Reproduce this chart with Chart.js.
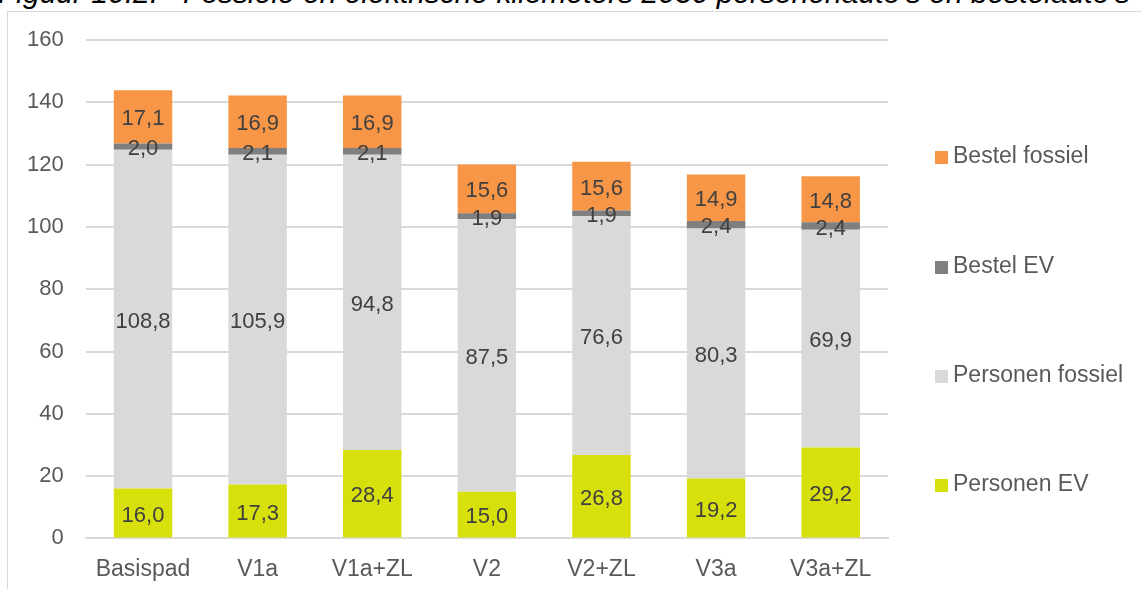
<!DOCTYPE html>
<html>
<head>
<meta charset="utf-8">
<script src="https://cdn.jsdelivr.net/npm/chart.js@4.4.1/dist/chart.umd.min.js"></script>
<style>
    html, body { margin: 0; padding: 0; background: #fff; overflow: hidden; }
    #wrap { position: relative; width: 1142px; height: 589px; overflow: hidden; }
    #titel {
        position: absolute; left: -2px; top: -22px; white-space: nowrap;
        font: italic 30px "Liberation Sans", Arial, sans-serif; color: #000; line-height: 30px;
    }
    #kader {
        position: absolute; left: 7px; top: 11px; width: 1200px; height: 700px;
        border-left: 1px solid #d9d9d9; border-top: 1px solid #d9d9d9;
    }
    #chart { position: absolute; left: 0; top: 0; }
    #legenda {
        position: absolute; left: 935px; top: 0;
        font: 23px "Liberation Sans", Arial, sans-serif; color: #595959;
    }
    #legenda div { position: absolute; white-space: nowrap; line-height: 23px; }
    #legenda span { display: inline-block; width: 13px; height: 13px; margin-right: 5px; vertical-align: -1px; }
</style>
</head>
<body>
<div id="wrap">
    <div id="titel">Figuur 10.2:&nbsp;&nbsp; Fossiele en elektrische kilometers 2030 personenauto's en bestelauto's</div>
    <div id="kader"></div>
    <canvas id="chart" width="1142" height="592"></canvas>
    <div id="legenda"></div>
</div>
<script>
    // Data (miljard km)
    const categorieen = ['Basispad', 'V1a', 'V1a+ZL', 'V2', 'V2+ZL', 'V3a', 'V3a+ZL'];
    const personenEV = [16.0, 17.3, 28.4, 15.0, 26.8, 19.2, 29.2];
    const personenFossiel = [108.8, 105.9, 94.8, 87.5, 76.6, 80.3, 69.9];
    const bestelEV = [2.0, 2.1, 2.1, 1.9, 1.9, 2.4, 2.4];
    const bestelFossiel = [17.1, 16.9, 16.9, 15.6, 15.6, 14.9, 14.8];

    const lettertype = '"Liberation Sans", Arial, sans-serif';

    // Waarden midden in elk segment tekenen
    const labelPlugin = {
        id: 'segmentLabels',
        afterDatasetsDraw(chart) {
            const ctx = chart.ctx;
            ctx.save();
            ctx.font = '22px ' + lettertype;
            ctx.fillStyle = '#404040';
            ctx.textAlign = 'center';
            ctx.textBaseline = 'middle';
            chart.data.datasets.forEach((ds, i) => {
                const meta = chart.getDatasetMeta(i);
                meta.data.forEach((bar, j) => {
                    const tekst = ds.data[j].toFixed(1).replace('.', ',');
                    ctx.fillText(tekst, bar.x, (bar.y + bar.base) / 2 + 2.5);
                });
            });
            ctx.restore();
        }
    };

    const ctx = document.getElementById('chart').getContext('2d');
    const grafiek = new Chart(ctx, {
        type: 'bar',
        data: {
            labels: categorieen,
            datasets: [
                { label: 'Personen EV', data: personenEV, backgroundColor: '#d8e00c' },
                { label: 'Personen fossiel', data: personenFossiel, backgroundColor: '#d9d9d9' },
                { label: 'Bestel EV', data: bestelEV, backgroundColor: '#7f7f7f' },
                { label: 'Bestel fossiel', data: bestelFossiel, backgroundColor: '#f79646' }
            ]
        },
        options: {
            responsive: false,
            animation: false,
            layout: {
                padding: { top: 40, right: 254, bottom: 0, left: 5 }
            },
            datasets: {
                bar: { barPercentage: 0.51, categoryPercentage: 1.0 }
            },
            plugins: {
                legend: { display: false },
                tooltip: { enabled: false }
            },
            scales: {
                x: {
                    stacked: true,
                    grid: { display: false },
                    border: { color: '#d9d9d9', width: 2 },
                    ticks: { color: '#595959', font: { size: 23, family: lettertype }, padding: 9 }
                },
                y: {
                    stacked: true,
                    min: 0,
                    max: 160,
                    ticks: { stepSize: 20, color: '#595959', font: { size: 22, family: lettertype }, padding: 22 },
                    grid: { color: '#d9d9d9', lineWidth: 2, drawTicks: false },
                    border: { display: false }
                }
            }
        },
        plugins: [labelPlugin]
    });

    // Legenda (omgekeerde volgorde, zoals in het origineel)
    const legenda = document.getElementById('legenda');
    const legendaY = [144, 254, 363, 472];
    grafiek.data.datasets.slice().reverse().forEach((ds, i) => {
        const item = document.createElement('div');
        item.style.top = legendaY[i] + 'px';
        item.innerHTML = '<span style="background:' + ds.backgroundColor + '"></span>' + ds.label;
        legenda.appendChild(item);
    });
</script>
</body>
</html>
